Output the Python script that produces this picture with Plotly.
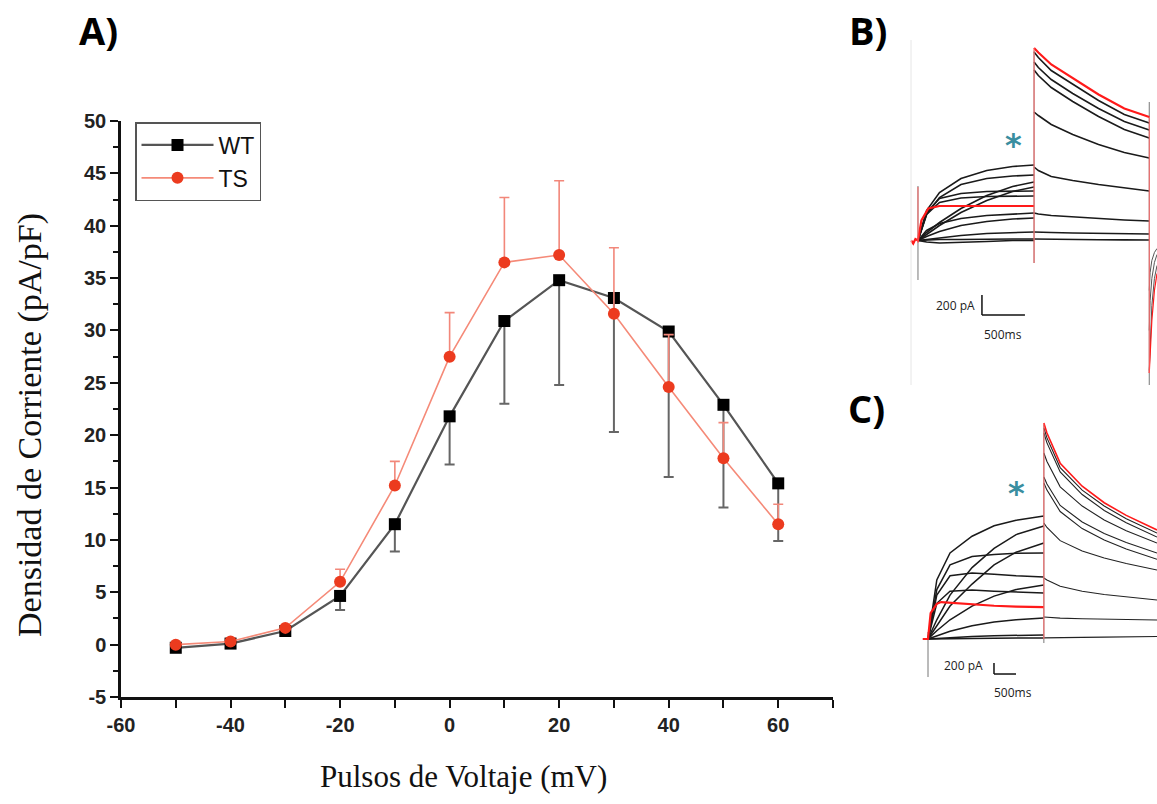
import plotly.graph_objects as go

W, H = 1157, 804

# ---------------- Panel A data ----------------
voltage = [-50, -40, -30, -20, -10, 0, 10, 20, 30, 40, 50, 60]
wt_mean = [-0.3, 0.1, 1.3, 4.65, 11.5, 21.8, 30.9, 34.8, 33.1, 29.9, 22.9, 15.4]
wt_err_minus = [0, 0, 0, 1.35, 2.6, 4.6, 7.9, 10.0, 12.8, 13.9, 9.8, 5.5]
ts_mean = [0.0, 0.3, 1.6, 6.0, 15.2, 27.5, 36.5, 37.2, 31.6, 24.6, 17.8, 11.5]
ts_err_plus = [0, 0, 0, 1.2, 2.3, 4.2, 6.2, 7.1, 6.3, 5.0, 3.4, 1.9]

x_ticks = [-60, -40, -20, 0, 20, 40, 60]
y_ticks = [-5, 0, 5, 10, 15, 20, 25, 30, 35, 40, 45, 50]

# ---------------- Panel B data (ms, pA) ----------------
b_t_on = [0, 100, 250, 500, 800, 1100, 1350]
b_on_1 = [0, 300, 480, 620, 700, 740, 755]
b_on_2 = [0, 260, 430, 560, 620, 645, 655]
b_on_3 = [0, 280, 420, 470, 490, 495, 495]
b_on_4 = [0, 260, 380, 425, 440, 445, 445]
b_on_5 = [0, 80, 180, 320, 450, 540, 585]
b_on_6 = [0, 60, 150, 280, 400, 490, 535]
b_on_7 = [0, 100, 170, 220, 250, 265, 275]
b_on_8 = [0, 40, 90, 150, 190, 215, 225]
b_on_9 = [0, 10, 30, 50, 70, 80, 85]
b_on_10 = [0, 5, 10, 10, 15, 15, 15]
b_on_11 = [0, -15, -25, -20, -10, 0, 0]
b_red_on_t = [-80, -55, -30, 0, 40, 120, 250, 500, 800, 1100, 1350]
b_red_on = [0, -30, 15, 0, 200, 320, 345, 345, 345, 345, 345]

b_t_off = [1350, 1400, 1550, 1800, 2100, 2400, 2690]
b_off_1 = [1885, 1830, 1700, 1560, 1400, 1260, 1175]
b_off_2 = [1785, 1730, 1610, 1470, 1320, 1190, 1105]
b_off_3 = [1705, 1650, 1530, 1390, 1240, 1110, 1025]
b_off_4 = [1285, 1250, 1160, 1060, 960, 880, 825]
b_off_5 = [735, 700, 640, 600, 560, 525, 495]
b_off_6 = [275, 265, 250, 235, 220, 205, 195]
b_off_7 = [85, 85, 80, 75, 70, 68, 65]
b_off_8 = [15, 15, 12, 10, 8, 6, 5]
b_red_off = [1925, 1880, 1760, 1620, 1460, 1320, 1235]

b_t_tail = [2690, 2700, 2720, 2750, 2780]
b_tail_1 = [-1300, -1000, -650, -380, -250]
b_tail_2 = [-900, -600, -380, -220, -140]
b_tail_3 = [-500, -320, -200, -120, -80]
b_red_tail = [-1325, -1150, -800, -500, -330]

b_cap_t = [0, 0, None, 1350, 1350, None, 2690, 2690]
b_cap_i = [545, -395, None, 1900, -225, None, 1385, -1445]
b_red_cap_t = [0, 0, None, 1350, 1350, None, 2690, 2690]
b_red_cap_i = [-25, 535, None, 1925, -225, None, 1235, -1325]

# ---------------- Panel C data (ms, pA) ----------------
c_t_on = [0, 200, 500, 1000, 1500, 2000, 2630]
c_on_1 = [0, 1074, 1565, 1870, 2060, 2160, 2239]
c_on_2 = [0, 900, 1350, 1500, 1540, 1560, 1565]
c_on_3 = [0, 800, 1150, 1200, 1180, 1150, 1128]
c_on_4 = [0, 650, 870, 890, 870, 850, 837]
c_on_5 = [0, 350, 800, 1300, 1650, 1900, 2057]
c_on_6 = [0, 250, 600, 1000, 1350, 1580, 1747]
c_on_7 = [0, 150, 350, 600, 780, 900, 983]
c_on_8 = [0, 60, 140, 240, 310, 350, 382]
c_on_9 = [0, 10, 25, 45, 60, 68, 73]
c_on_10 = [0, 0, 5, 10, 15, 18, 18]
c_red_on_t = [-120, -60, 0, 60, 200, 300, 500, 1000, 1500, 2000, 2630]
c_red_on = [0, 0, 0, 470, 640, 673, 660, 630, 605, 590, 582]

c_t_off = [2630, 2700, 3000, 3500, 4000, 4500, 5198]
c_off_1 = [3840, 3660, 3120, 2710, 2420, 2190, 1929]
c_off_2 = [3749, 3570, 3040, 2630, 2340, 2115, 1856]
c_off_3 = [3385, 3230, 2770, 2420, 2165, 1970, 1747]
c_off_4 = [2948, 2820, 2430, 2130, 1920, 1755, 1565]
c_off_5 = [2839, 2710, 2320, 2010, 1800, 1640, 1450]
c_off_6 = [2111, 2030, 1790, 1600, 1475, 1375, 1256]
c_off_7 = [1110, 1075, 960, 870, 810, 765, 710]
c_off_8 = [400, 395, 380, 370, 360, 352, 346]
c_off_9 = [20, 20, 25, 30, 35, 40, 45]
c_red_off = [3931, 3750, 3200, 2780, 2480, 2250, 1984]

c_cap_t = [0, 0, None, 2630, 2630]
c_cap_i = [127, -692, None, 3900, -73]
c_red_cap_t = [2630, 2630]
c_red_cap_i = [3931, 0]

# ---------------- figure ----------------
def px_x(p):
    return p / W

def px_y(p):
    return 1 - p / H

fig = go.Figure()

BLACK_TR = "#1a1a1a"
RED_TR = "#ff1a1a"

# Panel A traces
fig.add_trace(go.Scatter(
    x=voltage, y=wt_mean, name="WT", mode="lines+markers",
    line=dict(color="#555555", width=2.2),
    marker=dict(symbol="square", size=12, color="#000000"),
    error_y=dict(type="data", symmetric=False, array=[0] * len(voltage),
                 arrayminus=wt_err_minus, color="#666666", thickness=2, width=5),
    xaxis="x", yaxis="y"))
fig.add_trace(go.Scatter(
    x=voltage, y=ts_mean, name="TS", mode="lines+markers",
    line=dict(color="#f58a78", width=1.6),
    marker=dict(symbol="circle", size=12, color="#ec3b1f"),
    error_y=dict(type="data", symmetric=False, array=ts_err_plus,
                 arrayminus=[0] * len(voltage), color="#f2877a", thickness=1.6, width=5),
    xaxis="x", yaxis="y"))

def add_line(x, y, color, width, xa, ya):
    fig.add_trace(go.Scatter(x=x, y=y, mode="lines", showlegend=False,
                             line=dict(color=color, width=width),
                             hoverinfo="skip", xaxis=xa, yaxis=ya))

# Panel B traces
for tr in [b_on_1, b_on_2, b_on_3, b_on_4, b_on_5, b_on_6, b_on_7, b_on_8, b_on_9, b_on_10, b_on_11]:
    add_line(b_t_on, tr, BLACK_TR, 1.6, "x2", "y2")
for tr in [b_off_1, b_off_2, b_off_3, b_off_4, b_off_5, b_off_6, b_off_7, b_off_8]:
    add_line(b_t_off, tr, BLACK_TR, 1.6, "x2", "y2")
for tr in [b_tail_1, b_tail_2, b_tail_3]:
    add_line(b_t_tail, tr, "#555555", 1.0, "x2", "y2")
add_line(b_cap_t, b_cap_i, "#777777", 1.0, "x2", "y2")
add_line(b_red_on_t, b_red_on, RED_TR, 2.2, "x2", "y2")
add_line(b_t_off, b_red_off, RED_TR, 2.2, "x2", "y2")
add_line(b_t_tail, b_red_tail, RED_TR, 1.2, "x2", "y2")
add_line(b_red_cap_t, b_red_cap_i, "#ff6666", 1.0, "x2", "y2")

# Panel C traces
for tr in [c_on_1, c_on_2, c_on_3, c_on_4, c_on_5, c_on_6, c_on_7, c_on_8, c_on_9, c_on_10]:
    add_line(c_t_on, tr, BLACK_TR, 1.5, "x3", "y3")
for tr in [c_off_1, c_off_2, c_off_3, c_off_4, c_off_5, c_off_6, c_off_7, c_off_8, c_off_9]:
    add_line(c_t_off, tr, "#222222", 1.1, "x3", "y3")
add_line(c_cap_t, c_cap_i, "#777777", 1.0, "x3", "y3")
add_line(c_red_on_t, c_red_on, RED_TR, 2.2, "x3", "y3")
add_line(c_t_off, c_red_off, RED_TR, 1.6, "x3", "y3")
add_line(c_red_cap_t, c_red_cap_i, "#ff6666", 1.0, "x3", "y3")

tick_font = dict(family="Liberation Sans, Arial, sans-serif", size=20, color="#222222", weight="bold")

hidden = dict(visible=False, showgrid=False, zeroline=False, fixedrange=True)

fig.update_layout(
    width=W, height=H, autosize=False,
    margin=dict(l=0, r=0, t=0, b=0),
    paper_bgcolor="white", plot_bgcolor="white",
    showlegend=True,
    legend=dict(x=px_x(135), y=px_y(122), xanchor="left", yanchor="top",
                bgcolor="white", bordercolor="#555555", borderwidth=1.5,
                font=dict(family="Liberation Sans, Arial, sans-serif", size=23, color="#111111"),
                itemwidth=72, tracegroupgap=2),
    xaxis=dict(domain=[px_x(121), px_x(833)], range=[-60, 70],
               tickvals=x_ticks, ticktext=[str(v) for v in x_ticks],
               ticks="outside", ticklen=8, tickwidth=2, tickcolor="#111111",
               minor=dict(dtick=10, tick0=0, ticks="outside", ticklen=8, tickwidth=2, tickcolor="#111111"),
               showline=True, linecolor="#111111", linewidth=2.5,
               showgrid=False, zeroline=False, tickfont=tick_font, automargin=False,
               anchor="y"),
    yaxis=dict(domain=[px_y(697), px_y(121)], range=[-5, 50],
               tickvals=y_ticks, ticktext=[str(v) for v in y_ticks],
               ticks="outside", ticklen=8, tickwidth=2, tickcolor="#111111",
               minor=dict(dtick=2.5, tick0=0, ticks="outside", ticklen=5, tickwidth=1.5, tickcolor="#111111"),
               showline=True, linecolor="#111111", linewidth=2.5,
               showgrid=False, zeroline=False, tickfont=tick_font, automargin=False,
               anchor="x"),
    xaxis2=dict(domain=[px_x(905), 1.0], range=[-151, 2780], anchor="y2", **hidden),
    yaxis2=dict(domain=[px_y(385), px_y(40)], range=[-1445, 2005], anchor="x2", **hidden),
    xaxis3=dict(domain=[px_x(905), 1.0], range=[-522, 5198], anchor="y3", **hidden),
    yaxis3=dict(domain=[px_y(700), px_y(400)], range=[-1110, 4350], anchor="x3", **hidden),
)

serif = "Liberation Serif, Times New Roman, serif"
label_font = dict(family="Open Sans, Lato, sans-serif", size=38, color="#000000", weight="bold")
small_font = dict(family="Open Sans, Lato, sans-serif", size=12, color="#222222")

def paper_ann(text, px, py, font, angle=0):
    return dict(text=text, x=px_x(px), y=px_y(py), xref="paper", yref="paper",
                xanchor="center", yanchor="middle", showarrow=False, textangle=angle, font=font)

annotations = [
    paper_ann("Densidad de Corriente (pA/pF)", 30, 425, dict(family=serif, size=34, color="#111111"), -90),
    paper_ann("Pulsos de Voltaje (mV)", 463, 776, dict(family=serif, size=31, color="#111111")),
    paper_ann("A)", 98, 30, label_font),
    paper_ann("B)", 868, 30, label_font),
    paper_ann("C)", 866, 408, label_font),
    # panel B scale text and asterisk
    dict(text="200 pA", x=690, y=-650, xref="x2", yref="y2", xanchor="right", showarrow=False, font=small_font),
    dict(text="500ms", x=994, y=-935, xref="x2", yref="y2", showarrow=False, font=small_font),
    dict(text="*", x=1116, y=960, xref="x2", yref="y2", showarrow=False,
         font=dict(family="DejaVu Sans, sans-serif", size=32, color="#3a8ea0", weight="bold")),
    # panel C
    dict(text="200 pA", x=1294, y=-480, xref="x3", yref="y3", xanchor="right", showarrow=False, font=small_font),
    dict(text="500ms", x=1930, y=-965, xref="x3", yref="y3", showarrow=False, font=small_font),
    dict(text="*", x=2020, y=2650, xref="x3", yref="y3", showarrow=False,
         font=dict(family="DejaVu Sans, sans-serif", size=32, color="#3a8ea0", weight="bold")),
]
fig.update_layout(annotations=annotations)

shapes = [
    # panel B scale bar
    dict(type="line", xref="x2", yref="y2", x0=744, x1=744, y0=-745, y1=-545, line=dict(color="#111111", width=1.5)),
    dict(type="line", xref="x2", yref="y2", x0=744, x1=1244, y0=-745, y1=-745, line=dict(color="#111111", width=1.5)),
    # panel C scale bar
    dict(type="line", xref="x3", yref="y3", x0=1498, x1=1498, y0=-637, y1=-437, line=dict(color="#111111", width=1.5)),
    dict(type="line", xref="x3", yref="y3", x0=1498, x1=1998, y0=-637, y1=-637, line=dict(color="#111111", width=1.5)),
    # faint image border line in panel B
    dict(type="line", xref="paper", yref="paper", x0=px_x(911), x1=px_x(911), y0=px_y(385), y1=px_y(40),
         line=dict(color="#e6e6e6", width=1)),
]
fig.update_layout(shapes=shapes)

fig.write_html("out.html", config={"displayModeBar": False},
               post_script="document.body.style.margin='0';")
